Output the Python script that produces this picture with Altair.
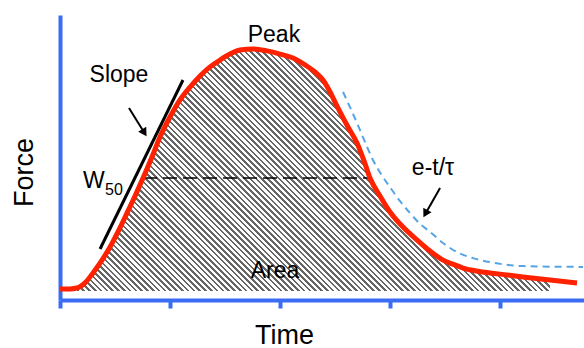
import altair as alt
import pandas as pd

# ---- data (Time: tick spacing = 1, Force: 0-100) ----
trace_time = [0, 0.09, 0.155, 0.227, 0.3, 0.382, 0.455, 0.536, 0.609, 0.682,
              0.755, 0.836, 0.909, 1.0, 1.091, 1.182, 1.273, 1.364, 1.455, 1.545,
              1.636, 1.755, 1.882, 2.0, 2.118, 2.227, 2.318, 2.391, 2.455, 2.5,
              2.545, 2.618, 2.7, 2.764, 2.818, 2.909, 3.0, 3.118, 3.245, 3.364,
              3.482, 3.591, 3.664, 3.782, 3.909, 4.064, 4.209, 4.455, 4.7]
trace_force = [3.9, 3.9, 4.2, 6.0, 9.5, 14.0, 18.6, 24.6, 30.5, 36.5,
               42.8, 50.2, 57.2, 64.2, 70.2, 74.7, 78.6, 81.8, 84.2, 86.3,
               87.7, 88.1, 87.4, 86.3, 84.9, 82.5, 80.0, 77.2, 73.0, 69.5,
               66.0, 60.7, 55.1, 48.8, 42.8, 36.5, 30.9, 25.6, 21.1, 17.2,
               14.0, 12.3, 11.2, 10.2, 9.5, 8.8, 8.1, 7.0, 6.0]

exp_time = [2.573, 2.636, 2.7, 2.773, 2.845, 2.918, 3.0, 3.091, 3.182, 3.273,
            3.364, 3.482, 3.609, 3.755, 3.909, 4.209, 4.755]
exp_force = [73.0, 67.7, 62.1, 55.4, 49.1, 44.2, 39.6, 34.7, 30.5, 26.7,
             23.9, 20.0, 16.8, 14.7, 13.3, 11.9, 11.6]

area_range = [0.155, 4.455]
area_base = 3.2

slope_time = [0.364, 1.118]
slope_force = [17.9, 77.2]

w50_start, w50_end, w50_force = 0.755, 2.818, 42.8

arrow_id = ["slope", "slope", "exp", "exp"]
arrow_time = [0.627, 0.767, 3.455, 3.322]
arrow_force = [67.4, 58.7, 39.3, 30.3]
head_time = [0.767, 3.322]
head_force = [58.7, 30.3]
head_angle = [148, 209]

label_text = ["Peak", "Slope", "Area", "e-t/\u03c4"]
label_time = [1.945, 0.536, 1.955, 3.391]
label_force = [90.5, 76.5, 7.7, 43.9]

x_ticks = [0, 1, 2, 3, 4]

# ---- styling ----
FONT = "Liberation Sans"
BLUE = "#3a6cf6"
RED = "#ff2200"

# hatch pattern as a striped linear gradient (bbox ~473 x 242 px)
W, H = 473.0, 242.0
L = W + H
period = 5.8
d = 1 + (H / W) ** 2
s = L / (W * d)
stops = []
k = 0
while k * period < L:
    a = k * period / L
    b = min((k * period + period * 0.45) / L, 1)
    c = min((k + 1) * period / L, 1)
    stops += [alt.GradientStop(offset=a, color="#666666"),
              alt.GradientStop(offset=b, color="#666666"),
              alt.GradientStop(offset=b, color="#ffffff"),
              alt.GradientStop(offset=c, color="#ffffff")]
    k += 1
hatch = alt.LinearGradient(gradient="linear", stops=stops,
                           x1=0, y1=1, x2=s, y2=1 - s * H / W)

trace = pd.DataFrame({"t": trace_time, "F": trace_force})
expo = pd.DataFrame({"t": exp_time, "F": exp_force})
slope = pd.DataFrame({"t": slope_time, "F": slope_force})
w50 = pd.DataFrame({"t": [w50_start], "t2": [w50_end], "F": [w50_force]})
arrows = pd.DataFrame({"id": arrow_id, "t": arrow_time, "F": arrow_force})
heads = pd.DataFrame({"t": head_time, "F": head_force, "ang": head_angle})
labels = pd.DataFrame({"txt": label_text, "t": label_time, "F": label_force})
wlab = pd.DataFrame({"txt": ["W"], "t": [0.209], "F": [39.3]})
sublab = pd.DataFrame({"txt": ["50"], "t": [0.409], "F": [36.8]})

xs = alt.Scale(domain=[0, 524 / 110], nice=False, zero=False)
ys = alt.Scale(domain=[0, 100], nice=False, zero=False)

X = alt.X("t:Q", scale=xs,
          axis=alt.Axis(values=x_ticks, labels=False, grid=False, title="Time",
                        domainColor=BLUE, domainWidth=4, tickColor=BLUE,
                        tickWidth=4, tickSize=8, titleX=224, titleY=43,
                        titleBaseline="alphabetic", titleAlign="center"))
Y = alt.Y("F:Q", scale=ys,
          axis=alt.Axis(labels=False, ticks=False, grid=False, title="Force",
                        domainColor=BLUE, domainWidth=4, titleX=-28, titleY=157,
                        titleAngle=-90, titleBaseline="alphabetic",
                        titleAlign="center"))

area = alt.Chart(trace).mark_area(fill=hatch, interpolate="monotone").encode(
    x=X, y=Y, y2=alt.datum(area_base)
).transform_filter(alt.FieldRangePredicate(field="t", range=area_range))

w50_line = alt.Chart(w50).mark_rule(color="black", strokeWidth=1.5,
                                     strokeDash=[14, 6]).encode(
    x="t:Q", x2="t2:Q", y="F:Q")

exp_line = alt.Chart(expo).mark_line(color="#55a5e6", strokeWidth=2,
                                     strokeDash=[7, 5],
                                     interpolate="monotone").encode(x="t:Q", y="F:Q")

slope_line = alt.Chart(slope).mark_line(color="black", strokeWidth=3).encode(
    x="t:Q", y="F:Q")

red_line = alt.Chart(trace).mark_line(color=RED, strokeWidth=5,
                                      interpolate="monotone").encode(x="t:Q", y="F:Q")

arrow_lines = alt.Chart(arrows).mark_line(color="black", strokeWidth=2).encode(
    x="t:Q", y="F:Q", detail="id:N")
arrow_heads = alt.Chart(heads).mark_point(shape="triangle-up", filled=True,
                                          color="black", size=90, opacity=1).encode(
    x="t:Q", y="F:Q", angle=alt.Angle("ang:Q", scale=None))

text = alt.Chart(labels).mark_text(font=FONT, fontSize=23, color="black",
                                   baseline="alphabetic", align="center").encode(
    x="t:Q", y="F:Q", text="txt:N")
wtext = alt.Chart(wlab).mark_text(font=FONT, fontSize=23, color="black",
                                  baseline="alphabetic", align="left").encode(
    x="t:Q", y="F:Q", text="txt:N")
subtext = alt.Chart(sublab).mark_text(font=FONT, fontSize=16, color="black",
                                      baseline="alphabetic", align="left").encode(
    x="t:Q", y="F:Q", text="txt:N")

chart = alt.layer(area, w50_line, exp_line, slope_line, red_line,
                  arrow_lines, arrow_heads, text, wtext, subtext).properties(
    width=524, height=285,
    autosize=alt.AutoSizeParams(type="none"),
    padding={"left": 60, "top": 15, "right": 0, "bottom": 48},
    background="white",
).configure_view(stroke=None).configure_axis(
    titleFont=FONT, titleFontSize=27, titleFontWeight="normal",
    titleColor="black", domainCap="butt"
)

chart.save("out.html", embed_options={"renderer": "svg", "actions": False})
